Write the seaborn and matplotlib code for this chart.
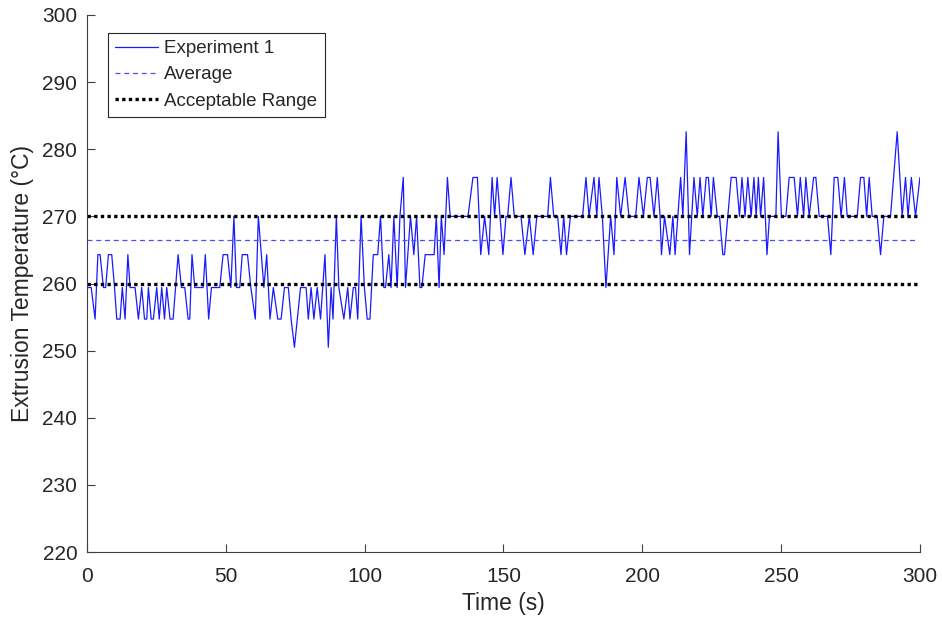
import matplotlib
matplotlib.use("Agg")
import matplotlib.pyplot as plt
import seaborn as sns
import pandas as pd

# readings taken off the reference trace (time in s, temperature in degC)
time_s = [
    0.0, 1.5, 2.9, 3.9, 4.7, 5.9, 6.7, 7.7, 8.9, 9.9, 10.7, 11.9, 12.7, 13.7, 14.7,
    15.5, 17.3, 18.5, 19.7, 20.7, 21.5, 22.1, 23.1, 23.9, 25.1, 26.0, 26.9, 27.9,
    28.7, 29.9, 31.0, 32.8, 34.0, 35.2, 36.4, 37.0, 37.8, 38.8, 41.8, 42.6, 43.8,
    44.8, 47.8, 49.0, 50.6, 51.8, 52.9, 53.8, 55.0, 55.9, 57.8, 59.0, 60.6, 61.7,
    63.7, 64.7, 65.9, 67.1, 68.7, 69.9, 71.1, 72.5, 73.5, 74.7, 76.9, 78.9, 79.7,
    80.7, 81.7, 82.9, 84.1, 85.7, 86.9, 87.9, 88.6, 89.8, 90.7, 92.5, 93.9, 94.7,
    95.9, 96.7, 97.5, 98.7, 99.9, 100.9, 101.9, 103.1, 104.7, 105.7, 106.9, 107.5,
    108.7, 109.5, 110.5, 111.7, 112.7, 113.9, 114.7, 116.5, 117.7, 118.7, 119.9,
    120.6, 121.8, 125.0, 125.8, 126.8, 127.6, 128.6, 129.8, 130.8, 137.2, 139.0,
    140.6, 141.8, 143.2, 144.7, 145.9, 146.8, 147.7, 149.8, 150.9, 151.5, 152.7,
    153.9, 156.3, 157.7, 159.3, 160.7, 162.0, 165.9, 166.9, 168.1, 169.5, 170.7,
    171.7, 172.7, 174.1, 178.5, 179.7, 180.8, 182.6, 183.6, 184.4, 185.6, 186.9,
    188.6, 189.8, 190.8, 192.2, 193.8, 195.2, 197.6, 198.8, 200.4, 201.8, 202.8,
    204.2, 205.4, 206.4, 206.9, 208.0, 209.9, 211.0, 211.8, 213.8, 214.6, 215.8,
    217.0, 218.6, 219.8, 220.8, 221.8, 223.0, 223.8, 224.8, 225.6, 227.0, 227.8,
    229.0, 229.6, 230.8, 232.0, 233.8, 235.0, 235.9, 237.0, 238.0, 239.2, 240.2,
    241.0, 241.8, 242.6, 243.7, 244.9, 245.8, 248.1, 248.9, 250.1, 251.7, 252.9,
    254.7, 255.9, 256.9, 258.1, 258.9, 260.1, 261.7, 262.5, 263.7, 266.7, 267.9,
    269.1, 270.4, 271.6, 272.8, 273.8, 277.4, 278.6, 279.8, 280.8, 281.7, 282.8,
    284.6, 285.8, 287.0, 289.4, 291.8, 293.6, 294.8, 295.7, 296.9, 298.4, 300.0,
]
temp_c = [
    259.4, 259.4, 254.7, 264.3, 264.3, 259.4, 259.4, 264.3, 264.3, 259.4, 254.7, 254.7, 259.4, 254.7, 264.3,
    259.4, 259.4, 254.7, 259.4, 254.7, 254.7, 259.4, 254.7, 254.7, 259.4, 254.7, 259.4, 254.7,
    259.4, 254.7, 254.7, 264.3, 259.4, 259.4, 254.7, 254.7, 264.3, 259.4, 259.4, 264.3, 254.7,
    259.4, 259.4, 264.3, 264.3, 259.4, 270.0, 259.4, 259.4, 264.3, 264.3, 259.4, 254.7, 270.0,
    259.4, 264.3, 254.7, 259.4, 254.7, 254.7, 259.4, 259.4, 254.7, 250.5, 259.4, 259.4, 254.7,
    259.4, 254.7, 259.4, 254.7, 264.3, 250.5, 259.4, 254.7, 270.0, 259.4, 254.7, 259.4, 254.7,
    259.4, 259.4, 254.7, 270.0, 259.4, 254.7, 254.7, 264.3, 264.3, 270.0, 259.4, 259.4,
    264.3, 259.4, 270.0, 259.4, 270.0, 275.8, 259.4, 270.0, 264.3, 270.0, 259.4,
    259.4, 264.3, 264.3, 270.0, 259.4, 270.0, 264.3, 275.8, 270.0, 270.0, 275.8,
    275.8, 264.3, 270.0, 264.3, 275.8, 270.0, 275.8, 264.3, 270.0, 270.0, 275.8,
    270.0, 270.0, 264.3, 270.0, 264.3, 270.0, 270.0, 275.8, 270.0, 270.0, 264.3,
    270.0, 264.3, 270.0, 270.0, 275.8, 270.0, 275.8, 270.0, 275.8, 270.0, 259.4,
    270.0, 264.3, 275.8, 270.0, 275.8, 270.0, 270.0, 275.8, 270.0, 275.8, 275.8,
    270.0, 275.8, 270.0, 264.3, 270.0, 264.3, 270.0, 264.3, 275.8, 270.0, 282.6,
    264.3, 275.8, 270.0, 275.8, 270.0, 275.8, 275.8, 270.0, 275.8, 270.0, 270.0,
    264.3, 264.3, 270.0, 275.8, 275.8, 270.0, 275.8, 270.0, 275.8, 270.0, 275.8,
    270.0, 275.8, 270.0, 275.8, 264.3, 270.0, 270.0, 282.6, 270.0, 270.0, 275.8,
    275.8, 270.0, 275.8, 270.0, 275.8, 270.0, 275.8, 275.8, 270.0, 270.0, 264.3,
    275.8, 275.8, 270.0, 275.8, 270.0, 270.0, 275.8, 275.8, 270.0, 275.8, 270.0,
    270.0, 264.3, 270.0, 270.0, 282.6, 270.0, 275.8, 270.0, 275.8, 270.0, 275.8,
]
average_c = 266.5
average_span = [0, 298.5]
range_low, range_high = 260, 270
range_span = [0, 300]

x_ticks = [0, 50, 100, 150, 200, 250, 300]
y_ticks = [220, 230, 240, 250, 260, 270, 280, 290, 300]

sns.set_style("ticks")
plt.rcParams['font.family'] = ['Liberation Sans', 'DejaVu Sans']

fig = plt.figure(figsize=(9.42, 6.25), dpi=100)
ax = fig.add_axes([0.0924, 0.1168, 0.8842, 0.8592])

df = pd.DataFrame({"Time": time_s, "Temp": temp_c})
sns.lineplot(data=df, x="Time", y="Temp", ax=ax, color="#1a1aff", linewidth=0.9,
             estimator=None, sort=False, label="Experiment 1")
avg_df = pd.DataFrame({"Time": average_span, "Temp": [average_c, average_c]})
sns.lineplot(data=avg_df, x="Time", y="Temp", ax=ax, color="#4d4dff", linewidth=0.9,
             linestyle=(0, (4, 3)), label="Average")
for i, lvl in enumerate([range_high, range_low]):
    rdf = pd.DataFrame({"Time": range_span, "Temp": [lvl, lvl]})
    sns.lineplot(data=rdf, x="Time", y="Temp", ax=ax, color="black", linewidth=2.4,
                 linestyle=(0, (1, 1)), label="Acceptable Range" if i == 0 else None)

ax.set_xlim(0, 300)
ax.set_ylim(220, 300)
ax.set_xticks(x_ticks)
ax.set_yticks(y_ticks)
ax.tick_params(direction="in", length=6, width=0.8, colors="#404040",
               labelcolor="#262626", labelsize=15)
ax.tick_params(axis="x", pad=11)
ax.tick_params(axis="y", pad=7)
for side in ["top", "right"]:
    ax.spines[side].set_visible(False)
for side in ["left", "bottom"]:
    ax.spines[side].set_color("#404040")
    ax.spines[side].set_linewidth(0.8)
ax.set_xlabel("Time (s)", fontsize=16.5, color="#262626", labelpad=4)
ax.set_ylabel("Extrusion Temperature (°C)", fontsize=16.5, color="#262626", labelpad=6)

leg = ax.legend(loc="upper left", bbox_to_anchor=(0.025, 0.967), fontsize=13.5,
                fancybox=False, framealpha=1, edgecolor="#262626", borderpad=0.4,
                labelspacing=0.48, handlelength=2.3, handletextpad=0.3,
                borderaxespad=0)
leg.get_frame().set_linewidth(0.8)

fig.savefig("out.png", dpi=100)
